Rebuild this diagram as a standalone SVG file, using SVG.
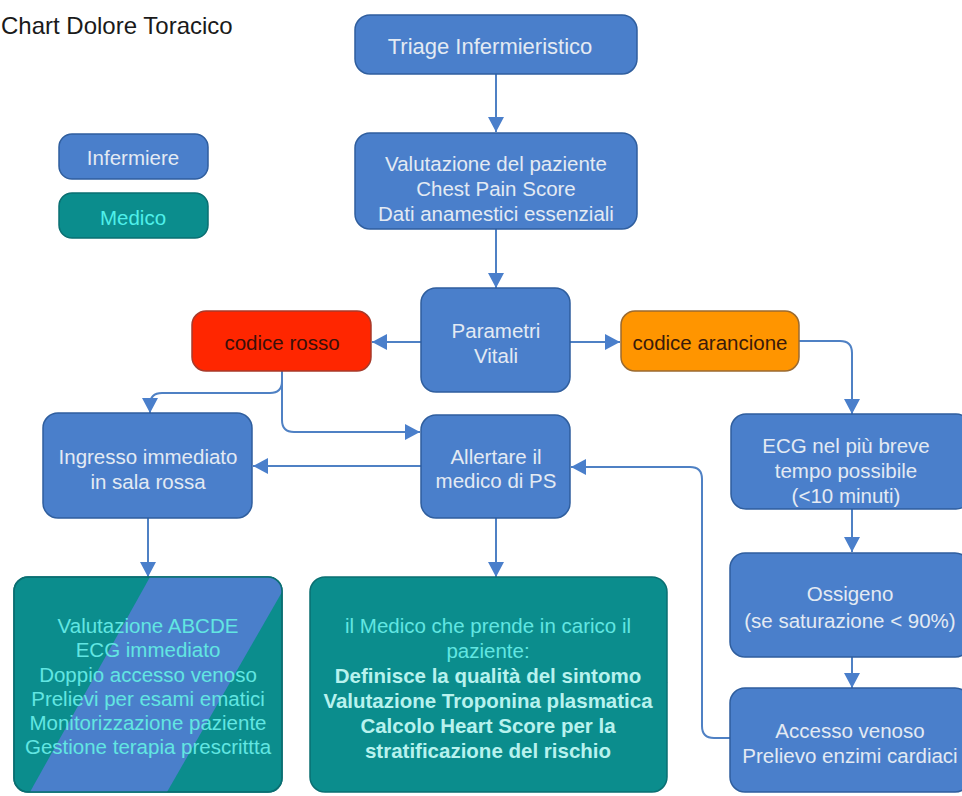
<svg xmlns="http://www.w3.org/2000/svg" width="962" height="796" viewBox="0 0 962 796">
<style>
text{font-family:"Liberation Sans",Arial,sans-serif;font-size:20.5px;text-anchor:middle;dominant-baseline:central}
.b{fill:#4a7fcb;stroke:#2f5e9e;stroke-width:1.5}
.t{fill:#0b8d8d;stroke:#0a6f72;stroke-width:1.5}
.tb{fill:#e3eaf3}
.tc{fill:#4ff0ea}
.tm{fill:#62e6e2}
.bold{font-weight:bold;fill:#b8f2ee}
.c{fill:none;stroke:#4f81c4;stroke-width:2}
</style>
<defs>
<marker id="ah" markerWidth="16" markerHeight="16" refX="15" refY="8" orient="auto" markerUnits="userSpaceOnUse">
<path d="M0,0 L15,8 L0,16 Z" fill="#4a7fcb"/>
</marker>
<marker id="ah2" markerWidth="12" markerHeight="12" refX="11" refY="6" orient="auto" markerUnits="userSpaceOnUse">
<path d="M0,0 L11,6 L0,12 Z" fill="#4a6fd0"/>
</marker>
<clipPath id="clipA"><rect x="14" y="577" width="268" height="215" rx="14"/></clipPath>
</defs>
<rect width="962" height="796" fill="#ffffff"/>
<text x="1" y="25" style="text-anchor:start;font-size:24px;fill:#1a1a1a">Chart Dolore Toracico</text>

<g id="legend-infermiere"><rect class="b" x="59" y="134" width="149" height="45" rx="13"/><text class="tb" x="133" y="157">Infermiere</text></g>
<g id="legend-medico"><rect class="t" x="59" y="193" width="149" height="45" rx="13"/><text class="tc" x="133" y="217">Medico</text></g>

<g id="connectors">
<path class="c" d="M496,74 V132" marker-end="url(#ah)"/>
<path class="c" d="M496,229 V288" marker-end="url(#ah)"/>
<path class="c" d="M421,342 H372" marker-end="url(#ah)"/>
<path class="c" d="M570,342 H620" marker-end="url(#ah)"/>
<path class="c" d="M799,341 H840 Q852,341 852,353 V414" marker-end="url(#ah)"/>
<path class="c" d="M282,371 V381 Q282,393 270,393 H162 Q150,393 150,405 V413" marker-end="url(#ah)"/>
<path class="c" d="M282,381 V420 Q282,432 294,432 H420" marker-end="url(#ah)"/>
<path class="c" d="M421,466 H253" marker-end="url(#ah)"/>
<path class="c" d="M148,518 V577" marker-end="url(#ah)"/>
<path class="c" d="M496,518 V577" marker-end="url(#ah)"/>
<path class="c" d="M852,509 V552" marker-end="url(#ah)"/>
<path class="c" d="M852,657 V688" marker-end="url(#ah)"/>
<path class="c" d="M730,738 H714 Q702,738 702,726 V479 Q702,467 690,467 H571" marker-end="url(#ah)"/>
<path d="M667,683 L587,637" fill="none" stroke="#3f6fcf" stroke-width="1.6" marker-end="url(#ah2)"/>
</g>

<g id="triage"><rect class="b" x="355" y="15" width="282" height="59" rx="15"/><text class="tb" x="490" y="46" style="font-size:22px">Triage Infermieristico</text></g>
<g id="valutazione"><rect class="b" x="355" y="133" width="282" height="96" rx="15"/>
<text class="tb" x="496" y="163">Valutazione del paziente</text>
<text class="tb" x="496" y="188">Chest Pain Score</text>
<text class="tb" x="496" y="213">Dati anamestici essenziali</text></g>
<g id="parametri"><rect class="b" x="421" y="288" width="149" height="104" rx="15"/>
<text class="tb" x="496" y="330">Parametri</text>
<text class="tb" x="496" y="355">Vitali</text></g>
<g id="codice-rosso"><rect x="192" y="311" width="179" height="60" rx="14" fill="#ff2600" stroke="#a83a2a" stroke-width="1.5"/>
<text x="282" y="342" style="fill:#3a0f0a">codice rosso</text></g>
<g id="codice-arancione"><rect x="621" y="311" width="178" height="60" rx="14" fill="#ff9500" stroke="#9a6a30" stroke-width="1.5"/>
<text x="710" y="342" style="fill:#3a1a0a">codice arancione</text></g>
<g id="ingresso"><rect class="b" x="43" y="413" width="209" height="105" rx="15"/>
<text class="tb" x="148" y="456">Ingresso immediato</text>
<text class="tb" x="148" y="481">in sala rossa</text></g>
<g id="allertare"><rect class="b" x="421" y="415" width="149" height="103" rx="15"/>
<text class="tb" x="496" y="456">Allertare il</text>
<text class="tb" x="496" y="480">medico di PS</text></g>
<g id="ecg"><rect class="b" x="731" y="414" width="240" height="95" rx="15"/>
<text class="tb" x="846" y="445">ECG nel più breve</text>
<text class="tb" x="846" y="470">tempo possibile</text>
<text class="tb" x="846" y="495">(&lt;10 minuti)</text></g>
<g id="ossigeno"><rect class="b" x="730" y="553" width="240" height="104" rx="15"/>
<text class="tb" x="850" y="593">Ossigeno</text>
<text class="tb" x="850" y="620">(se saturazione &lt; 90%)</text></g>
<g id="accesso"><rect class="b" x="730" y="688" width="240" height="104" rx="15"/>
<text class="tb" x="850" y="730">Accesso venoso</text>
<text class="tb" x="850" y="755">Prelievo enzimi cardiaci</text></g>
<g id="abcde">
<rect class="t" x="14" y="577" width="268" height="215" rx="14"/>
<polygon points="150,577 282,577 282,592 167,792 30,792" fill="#4a7fcb" clip-path="url(#clipA)"/>
<rect x="14" y="577" width="268" height="215" rx="14" fill="none" stroke="#0a6f72" stroke-width="1.5"/>
<text class="tm" x="148" y="625">Valutazione ABCDE</text>
<text class="tm" x="148" y="649">ECG immediato</text>
<text class="tm" x="148" y="674">Doppio accesso venoso</text>
<text class="tm" x="148" y="698">Prelievi per esami ematici</text>
<text class="tm" x="148" y="722">Monitorizzazione paziente</text>
<text class="tm" x="148" y="746">Gestione terapia prescrittta</text></g>
<g id="medico-ps">
<rect class="t" x="310" y="577" width="357" height="215" rx="15"/>
<text class="tm" x="488" y="625">il Medico che prende in carico il</text>
<text class="tm" x="488" y="650">paziente:</text>
<text class="bold" x="488" y="675">Definisce la qualità del sintomo</text>
<text class="bold" x="488" y="700">Valutazione Troponina plasmatica</text>
<text class="bold" x="488" y="725">Calcolo Heart Score per la</text>
<text class="bold" x="488" y="750">stratificazione del rischio</text></g>
</svg>
